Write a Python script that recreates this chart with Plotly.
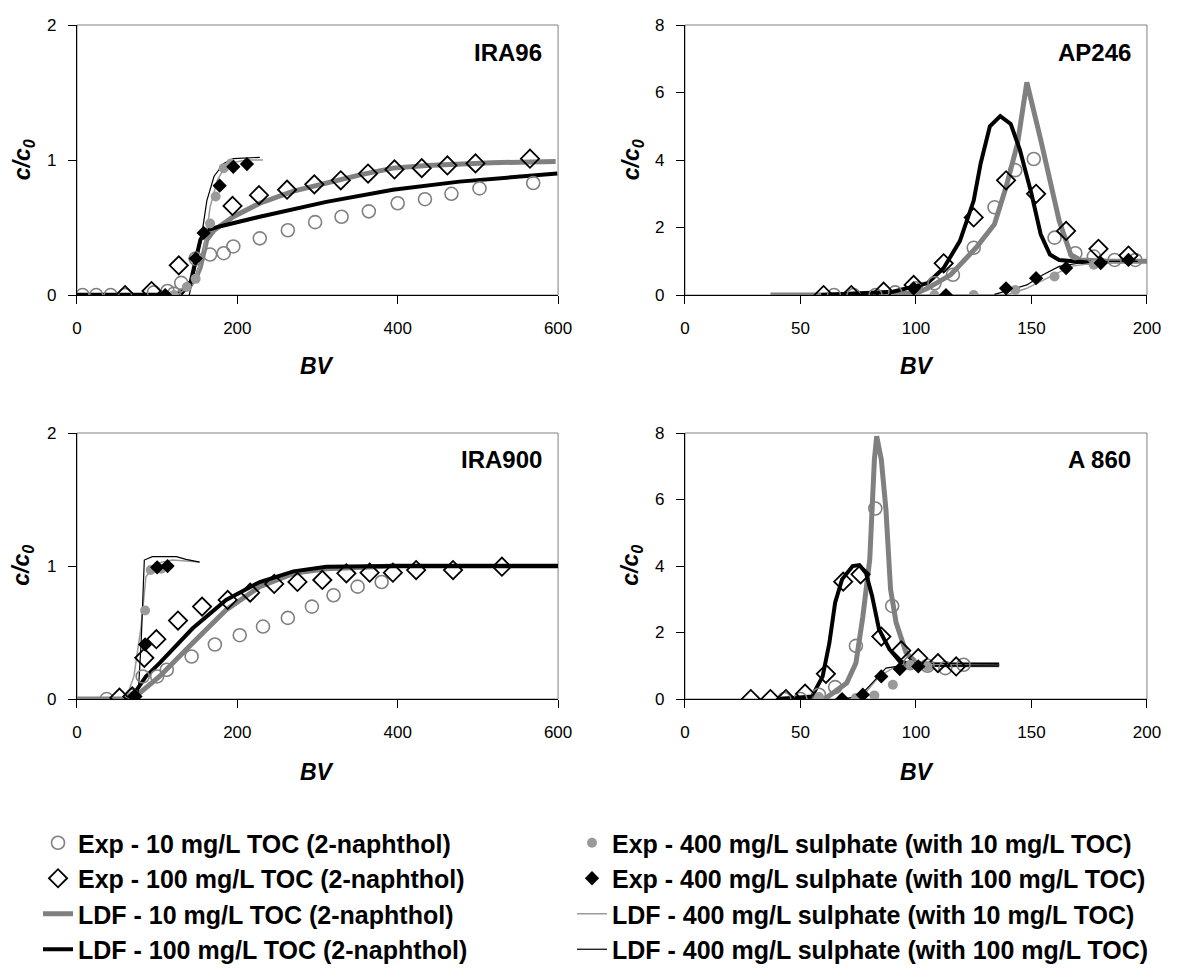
import plotly.graph_objects as go

# ---- IRA96 ----
ira96_exp10_x = [7, 24, 42, 60, 96, 113, 121, 130, 148, 166, 183, 195, 228, 263, 297, 330, 364, 400, 434, 467, 502, 569]
ira96_exp10_y = [0, 0, 0, 0, 0.02, 0.03, 0.01, 0.09, 0.27, 0.30, 0.31, 0.36, 0.42, 0.48, 0.54, 0.58, 0.62, 0.68, 0.71, 0.75, 0.79, 0.83]
ira96_exp100_x = [60, 93, 127, 194, 227, 262, 296, 329, 363, 396, 430, 462, 497, 565]
ira96_exp100_y = [0, 0.03, 0.22, 0.66, 0.74, 0.78, 0.82, 0.85, 0.90, 0.93, 0.94, 0.96, 0.975, 1.01]
ira96_ldf10_x = [0, 100, 125, 140, 150, 154, 162, 171, 195, 228, 270, 311, 353, 394, 436, 518, 597]
ira96_ldf10_y = [0, 0, 0.01, 0.06, 0.15, 0.21, 0.41, 0.48, 0.58, 0.68, 0.77, 0.83, 0.89, 0.94, 0.96, 0.98, 0.99]
ira96_ldf100_x = [0, 100, 130, 142, 150, 154, 162, 179, 228, 311, 394, 477, 599]
ira96_ldf100_y = [0, 0, 0.01, 0.10, 0.31, 0.41, 0.48, 0.51, 0.58, 0.69, 0.78, 0.84, 0.90]
ira96_sul10_x = [121, 137, 148, 166, 173, 183, 192]
ira96_sul10_y = [0, 0.06, 0.12, 0.53, 0.73, 0.94, 0.975]
ira96_sul100_x = [110, 148, 158, 178, 195, 212]
ira96_sul100_y = [0, 0.27, 0.46, 0.81, 0.95, 0.97]
ira96_ldfsul10_x = [125, 146, 158, 166, 175, 187, 212, 232]
ira96_ldfsul10_y = [0, 0.09, 0.31, 0.65, 0.85, 0.975, 1.0, 1.0]
ira96_ldfsul100_x = [140, 150, 156, 162, 171, 183, 195, 228]
ira96_ldfsul100_y = [0, 0.26, 0.46, 0.70, 0.88, 0.975, 1.01, 1.02]

# ---- AP246 ----
ap246_exp10_x = [64.5, 73, 82.5, 91, 100, 108, 116, 125, 134, 143, 151, 160, 169, 177, 186, 195]
ap246_exp10_y = [0, 0, 0, 0.08, 0.2, 0.35, 0.6, 1.4, 2.6, 3.7, 4.03, 1.7, 1.24, 1.14, 1.04, 1.04]
ap246_exp100_x = [60, 72, 86, 99, 112, 125, 139, 152, 165, 179, 192]
ap246_exp100_y = [0, 0, 0.1, 0.3, 0.94, 2.3, 3.4, 3.0, 1.9, 1.37, 1.17]
ap246_ldf10_x = [37, 60, 100, 105, 115, 126, 134, 139, 144, 148, 154, 159, 162, 167, 171, 184, 204]
ap246_ldf10_y = [0, 0, 0.05, 0.2, 0.6, 1.4, 2.1, 3.2, 4.5, 6.3, 4.6, 3.1, 2.2, 1.2, 1.04, 1.0, 1.0]
ap246_ldf100_x = [59, 90, 105, 112, 119, 125, 128, 132, 136.5, 141, 145, 150, 154, 158, 162, 170, 177]
ap246_ldf100_y = [0, 0.1, 0.35, 0.8, 1.6, 2.8, 3.9, 5.0, 5.3, 5.07, 4.3, 3.0, 1.8, 1.2, 1.04, 1.0, 0.95]
ap246_sul10_x = [108, 125, 143, 160, 177]
ap246_sul10_y = [0, 0, 0.15, 0.55, 0.9]
ap246_sul100_x = [99, 113, 139, 152, 165, 180, 192]
ap246_sul100_y = [0.2, 0, 0.2, 0.5, 0.8, 0.95, 1.04]
ap246_ldfsul10_x = [100, 140, 148, 160, 167, 177, 191]
ap246_ldfsul10_y = [0, 0.02, 0.2, 0.6, 0.85, 0.95, 1.0]
ap246_ldfsul100_x = [134, 148, 155, 162, 171, 184, 196]
ap246_ldfsul100_y = [0.02, 0.3, 0.6, 0.85, 0.95, 1.0, 1.0]

# ---- IRA900 ----
ira900_exp10_x = [37, 69, 82, 100, 112, 143, 172, 203, 232, 263, 293, 320, 350, 380]
ira900_exp10_y = [0, 0.025, 0.17, 0.17, 0.22, 0.32, 0.41, 0.48, 0.545, 0.61, 0.695, 0.78, 0.845, 0.88]
ira900_exp100_x = [53, 69, 84, 99, 126, 156, 188, 216, 246, 275, 306, 336, 365, 394, 423, 469, 530]
ira900_exp100_y = [0.01, 0.02, 0.31, 0.45, 0.59, 0.695, 0.745, 0.8, 0.865, 0.88, 0.895, 0.945, 0.95, 0.95, 0.97, 0.97, 0.995]
ira900_ldf10_x = [0, 61, 78, 103, 144, 186, 228, 270, 311, 395, 600]
ira900_ldf10_y = [0, 0, 0.045, 0.17, 0.42, 0.67, 0.845, 0.945, 0.98, 1.0, 1.0]
ira900_ldf100_x = [69, 86, 103, 144, 186, 228, 270, 311, 395, 602]
ira900_ldf100_y = [0.02, 0.17, 0.27, 0.53, 0.745, 0.88, 0.96, 0.995, 1.0, 1.0]
ira900_sul10_x = [69, 85, 92, 105]
ira900_sul10_y = [0.02, 0.665, 0.97, 0.98]
ira900_sul100_x = [71, 85, 100, 113]
ira900_sul100_y = [0.02, 0.41, 0.99, 1.0]
ira900_ldfsul10_x = [61, 71, 80, 86, 99, 119, 153]
ira900_ldfsul10_y = [0, 0.17, 0.545, 0.92, 1.02, 1.045, 1.03]
ira900_ldfsul100_x = [76, 80, 84, 94, 124, 136, 153]
ira900_ldfsul100_y = [0, 0.42, 1.045, 1.07, 1.07, 1.05, 1.03]

# ---- A 860 ----
a860_exp10_x = [43, 50, 58, 65, 74, 82.4, 89.7, 97.5, 105, 112.7, 120.6]
a860_exp10_y = [0, 0, 0.13, 0.36, 1.6, 5.73, 2.8, 1.08, 1.0, 0.93, 1.03]
a860_exp100_x = [28.5, 37, 43.7, 52, 61, 68.5, 76, 85, 93.6, 101, 109.5, 117.4]
a860_exp100_y = [0, 0, 0, 0.16, 0.76, 3.53, 3.75, 1.88, 1.46, 1.23, 1.08, 0.98]
a860_ldf10_x = [41, 61, 70, 74, 77, 80, 82, 83, 85, 87, 89, 91.4, 95.7, 100, 111.6, 136]
a860_ldf10_y = [0, 0.03, 0.48, 1.08, 2.48, 4.2, 7.2, 7.9, 7.2, 5.7, 3.3, 2.3, 1.4, 1.08, 1.03, 1.03]
a860_ldf100_x = [41, 55, 59.6, 62.5, 65, 68, 72.6, 75.5, 78.4, 81, 84, 88.5, 93, 98.6, 136]
a860_ldf100_y = [0, 0.08, 0.68, 1.68, 2.9, 3.6, 4.0, 4.03, 3.78, 3.1, 2.1, 1.5, 1.13, 1.03, 1.03]
a860_sul10_x = [58, 74, 82, 90, 97.5, 105]
a860_sul10_y = [0.06, 0.03, 0.11, 0.43, 1.03, 0.98]
a860_sul100_x = [68, 77, 85, 93, 101]
a860_sul100_y = [0, 0.13, 0.68, 0.9, 0.98]
a860_ldfsul10_x = [70, 78, 84, 90, 98.6, 136]
a860_ldfsul10_y = [0, 0.18, 0.68, 0.93, 1.03, 1.03]
a860_ldfsul100_x = [68, 75.5, 81, 87, 93, 136]
a860_ldfsul100_y = [0, 0.08, 0.48, 0.93, 1.0, 1.03]

series_names = [
    "Exp - 10 mg/L TOC (2-naphthol)",
    "Exp - 100 mg/L TOC (2-naphthol)",
    "LDF - 10 mg/L TOC (2-naphthol)",
    "LDF - 100 mg/L TOC (2-naphthol)",
    "Exp - 400 mg/L sulphate (with 10 mg/L TOC)",
    "Exp - 400 mg/L sulphate (with 100 mg/L TOC)",
    "LDF - 400 mg/L sulphate (with 10 mg/L TOC)",
    "LDF - 400 mg/L sulphate (with 100 mg/L TOC)",
]
panel_labels = ["IRA96", "AP246", "IRA900", "A 860"]

panels = [
    [(ira96_exp10_x, ira96_exp10_y), (ira96_exp100_x, ira96_exp100_y),
     (ira96_ldf10_x, ira96_ldf10_y), (ira96_ldf100_x, ira96_ldf100_y),
     (ira96_sul10_x, ira96_sul10_y), (ira96_sul100_x, ira96_sul100_y),
     (ira96_ldfsul10_x, ira96_ldfsul10_y), (ira96_ldfsul100_x, ira96_ldfsul100_y)],
    [(ap246_exp10_x, ap246_exp10_y), (ap246_exp100_x, ap246_exp100_y),
     (ap246_ldf10_x, ap246_ldf10_y), (ap246_ldf100_x, ap246_ldf100_y),
     (ap246_sul10_x, ap246_sul10_y), (ap246_sul100_x, ap246_sul100_y),
     (ap246_ldfsul10_x, ap246_ldfsul10_y), (ap246_ldfsul100_x, ap246_ldfsul100_y)],
    [(ira900_exp10_x, ira900_exp10_y), (ira900_exp100_x, ira900_exp100_y),
     (ira900_ldf10_x, ira900_ldf10_y), (ira900_ldf100_x, ira900_ldf100_y),
     (ira900_sul10_x, ira900_sul10_y), (ira900_sul100_x, ira900_sul100_y),
     (ira900_ldfsul10_x, ira900_ldfsul10_y), (ira900_ldfsul100_x, ira900_ldfsul100_y)],
    [(a860_exp10_x, a860_exp10_y), (a860_exp100_x, a860_exp100_y),
     (a860_ldf10_x, a860_ldf10_y), (a860_ldf100_x, a860_ldf100_y),
     (a860_sul10_x, a860_sul10_y), (a860_sul100_x, a860_sul100_y),
     (a860_ldfsul10_x, a860_ldfsul10_y), (a860_ldfsul100_x, a860_ldfsul100_y)],
]

GRAY = "#808080"
LGRAY = "#9a9a9a"

styles = [
    dict(mode="markers", marker=dict(symbol="circle-open", size=13, color=GRAY, line=dict(width=1.6, color=GRAY))),
    dict(mode="markers", marker=dict(symbol="diamond-open", size=14, color="black", line=dict(width=1.8, color="black"))),
    dict(mode="lines", line=dict(color=GRAY, width=5)),
    dict(mode="lines", line=dict(color="black", width=4)),
    dict(mode="markers", marker=dict(symbol="circle", size=10, color=LGRAY)),
    dict(mode="markers", marker=dict(symbol="diamond", size=11, color="black")),
    dict(mode="lines", line=dict(color=LGRAY, width=1.5)),
    dict(mode="lines", line=dict(color="black", width=1.2)),
]
draw_order = [2, 3, 6, 7, 0, 1, 4, 5]

fig = go.Figure()
for p, data in enumerate(panels):
    ax = "" if p == 0 else str(p + 1)
    for s in draw_order:
        xs, ys = data[s]
        fig.add_trace(go.Scatter(
            x=xs, y=ys, name="<b>%s</b>" % series_names[s],
            xaxis="x" + ax, yaxis="y" + ax,
            showlegend=(p == 0),
            legend="legend" if s < 4 else "legend2",
            legendgroup="g%d" % s, legendrank=s,
            hoverinfo="skip", **styles[s]))

font_main = "Liberation Sans, Arial, sans-serif"
xdom = [[0.0644, 0.467], [0.5732, 0.9598]]
ydom = [[0.698, 0.9744], [0.2845, 0.5568]]
xranges = [[0, 600], [0, 200], [0, 600], [0, 200]]
xticks = [[0, 200, 400, 600], [0, 50, 100, 150, 200], [0, 200, 400, 600], [0, 50, 100, 150, 200]]
yranges = [[0, 2], [0, 8], [0, 2], [0, 8]]
yticks = [[0, 1, 2], [0, 2, 4, 6, 8], [0, 1, 2], [0, 2, 4, 6, 8]]

legend_style = dict(yanchor="top", xanchor="left", traceorder="grouped", tracegroupgap=0,
                    font=dict(size=25, family=font_main), bgcolor="rgba(0,0,0,0)")
layout = dict(
    width=1195, height=977,
    margin=dict(l=0, r=0, t=0, b=0, autoexpand=False),
    paper_bgcolor="white", plot_bgcolor="white",
    font=dict(family=font_main, size=16, color="black"),
    showlegend=True,
    legend=dict(x=38 / 1195, y=(977 - 820) / 977, **legend_style),
    legend2=dict(x=572 / 1195, y=(977 - 820) / 977, **legend_style),
)
annotations = []
shapes = []
for p in range(4):
    ax = "" if p == 0 else str(p + 1)
    col = p % 2
    row = p // 2
    layout["xaxis" + ax] = dict(
        domain=xdom[col], range=xranges[p], tickvals=xticks[p],
        anchor="y" + ax, showline=True, linecolor="black", linewidth=1,
        ticks="outside", ticklen=8, tickcolor="black", showgrid=False,
        zeroline=False, tickfont=dict(size=17), ticklabelstandoff=10)
    layout["yaxis" + ax] = dict(
        domain=ydom[row], range=yranges[p], tickvals=yticks[p],
        anchor="x" + ax, showline=True, linecolor="black", linewidth=1,
        ticks="outside", ticklen=8, tickcolor="black", showgrid=False,
        zeroline=False, tickfont=dict(size=17), ticklabelstandoff=8)
    shapes.append(dict(type="rect", xref="x%s domain" % ax, yref="y%s domain" % ax,
                       x0=0, x1=1, y0=0, y1=1, line=dict(color=GRAY, width=1),
                       layer="below"))
    annotations.append(dict(text="<b>%s</b>" % panel_labels[p],
                            xref="x%s domain" % ax, yref="y%s domain" % ax,
                            x=0.97, y=0.9, xanchor="right", yanchor="middle",
                            showarrow=False, font=dict(size=24)))
    annotations.append(dict(text="<b><i>BV</i></b>", xref="paper", yref="paper",
                            x=[0.265, 0.767][col], y=[(977 - 366) / 977, (977 - 772) / 977][row],
                            xanchor="center", yanchor="middle",
                            showarrow=False, font=dict(size=23)))
    annotations.append(dict(text="<b><i>c/c<sub>0</sub></i></b>", xref="paper", yref="paper",
                            x=[23 / 1195, 632 / 1195][col], y=[0.836, 0.421][row],
                            xanchor="center", yanchor="middle", textangle=-90,
                            showarrow=False, font=dict(size=23)))

layout["annotations"] = annotations
layout["shapes"] = shapes
fig.update_layout(**layout)

# page body has a default 8px margin; drop it so the figure sits at the corner
fig.write_html("out.html", config={"displayModeBar": False},
               post_script="document.body.style.margin='0';")
